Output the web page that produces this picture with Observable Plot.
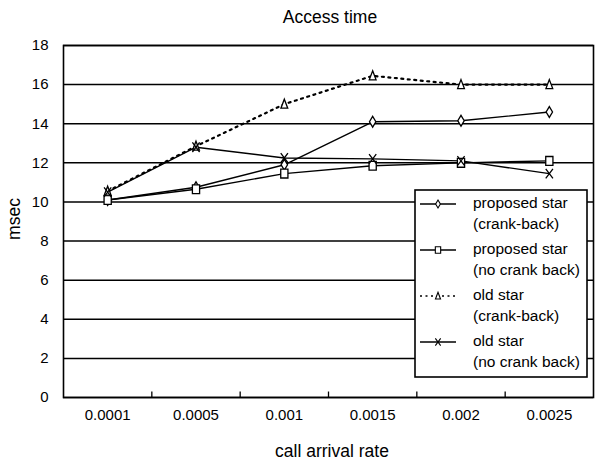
<!DOCTYPE html>
<html><head><meta charset="utf-8">
<script src="https://cdn.jsdelivr.net/npm/d3@7"></script>
<script src="https://cdn.jsdelivr.net/npm/@observablehq/plot@0.6"></script>
<style>html,body{margin:0;padding:0;background:#fff;} svg{display:block;}</style>
</head><body><div id="chart"></div>
<script>
const categories = ["0.0001", "0.0005", "0.001", "0.0015", "0.002", "0.0025"];
const proposedCrank = [10.1, 10.75, 11.9, 14.1, 14.15, 14.6];
const proposedNo = [10.1, 10.65, 11.45, 11.85, 12.0, 12.1];
const oldCrank = [10.55, 12.85, 15.0, 16.45, 16.0, 16.0];
const oldNo = [10.5, 12.8, 12.25, 12.2, 12.1, 11.45];
const yTicks = [0, 2, 4, 6, 8, 10, 12, 14, 16, 18];
const legendLabels = [
  ["proposed star", "(crank-back)"],
  ["proposed star", "(no crank back)"],
  ["old star", "(crank-back)"],
  ["old star", "(no crank back)"]
];

const FONT = "'Liberation Sans', Arial, Helvetica, sans-serif";

function k(size) { return Math.sqrt(size / (16 * Math.PI)); }
const tallDiamond = {draw(c, size) { const s = k(size), w = 3.2 * s, h = 5.4 * s;
  c.moveTo(0, -h); c.lineTo(w, 0); c.lineTo(0, h); c.lineTo(-w, 0); c.closePath(); }};
const tallSquare = {draw(c, size) { const s = k(size), w = 3.6 * s, h = 4.4 * s;
  c.moveTo(-w, -h); c.lineTo(w, -h); c.lineTo(w, h); c.lineTo(-w, h); c.closePath(); }};
const tallTriangle = {draw(c, size) { const s = k(size), w = 3.4 * s, h = 5 * s;
  c.moveTo(0, -h); c.lineTo(w, h * 0.8); c.lineTo(-w, h * 0.8); c.closePath(); }};
const tallTimes = {draw(c, size) { const s = k(size), w = 3.6 * s, h = 4.8 * s;
  c.moveTo(-w, -h); c.lineTo(w, h); c.moveTo(w, -h); c.lineTo(-w, h); }};

const series = [
  {values: proposedCrank, symbol: tallDiamond, dash: null, fill: "white"},
  {values: proposedNo, symbol: tallSquare, dash: null, fill: "white"},
  {values: oldCrank, symbol: tallTriangle, dash: "2,4.5", fill: "white"},
  {values: oldNo, symbol: tallTimes, dash: null, fill: "none"}
];
series.forEach((s, j) => s.rows = s.values.map((v, i) => ({i, v, j})));

const boundaries = categories.slice(1).map((_, i) => i + 0.5);

const marks = [
  Plot.ruleY(yTicks, {stroke: "black", strokeWidth: 1.5}),
  Plot.axisY({ticks: yTicks, tickSize: 0, tickPadding: 15, label: null, fontSize: 15}),
  Plot.axisX({ticks: d3.range(categories.length), tickFormat: i => categories[i], tickSize: 0, tickPadding: 12, label: null, fontSize: 15}),
  Plot.ruleX(boundaries, {x: d => d, y1: 0, y2: 0.28, stroke: "black", strokeWidth: 1.3}),
  Plot.frame({stroke: "black", strokeWidth: 1.6})
];
series.forEach(s => {
  marks.push(Plot.line(s.rows, {x: "i", y: "v", stroke: "black",
    strokeWidth: s.dash ? 2.2 : 1.4, strokeDasharray: s.dash || undefined}));
});
series.forEach(s => {
  marks.push(Plot.dot(s.rows, {x: "i", y: "v", symbol: s.symbol, r: 4, fill: s.fill, stroke: "black", strokeWidth: 1.3}));
});

const svg = Plot.plot({
  width: 596, height: 464,
  marginTop: 45, marginBottom: 67, marginLeft: 63, marginRight: 3,
  style: {fontFamily: FONT, fontSize: "15px", color: "black", background: "white"},
  x: {domain: [-0.5, categories.length - 0.5]},
  y: {domain: [0, 18]},
  marks
});
document.getElementById("chart").appendChild(svg);

const g = d3.select(svg).append("g").attr("font-family", FONT).attr("fill", "black");
g.append("text").attr("x", 330).attr("y", 23).attr("text-anchor", "middle").attr("font-size", 17.5).text("Access time");
g.append("text").attr("x", 332).attr("y", 457).attr("text-anchor", "middle").attr("font-size", 17.5).text("call arrival rate");
g.append("text").attr("transform", "translate(20,219) rotate(-90)").attr("text-anchor", "middle").attr("font-size", 17.5).text("msec");

const lg = d3.select(svg).append("g").attr("font-family", FONT).attr("text-anchor", "start");
lg.append("rect").attr("x", 415).attr("y", 190).attr("width", 172).attr("height", 187)
  .attr("fill", "white").attr("stroke", "black").attr("stroke-width", 1.6);
legendLabels.forEach((lab, j) => {
  const s = series[j];
  const y0 = 204 + j * 46;
  lg.append("line").attr("x1", 420).attr("x2", 456).attr("y1", y0).attr("y2", y0)
    .attr("stroke", "black").attr("stroke-width", s.dash ? 1.7 : 1.3)
    .attr("stroke-dasharray", s.dash ? "2,3.5" : null);
  lg.append("path").attr("d", d3.symbol(s.symbol, 16 * Math.PI * 0.55)())
    .attr("transform", `translate(438,${y0})`).attr("fill", s.fill).attr("stroke", "black").attr("stroke-width", 1.1);
  lg.append("text").attr("x", 473).attr("y", y0 + 4).attr("text-anchor", "start").attr("font-size", 15.5).attr("fill", "black").text(lab[0]);
  lg.append("text").attr("x", 473).attr("y", y0 + 25).attr("text-anchor", "start").attr("font-size", 15.5).attr("fill", "black").text(lab[1]);
});
</script></body></html>
